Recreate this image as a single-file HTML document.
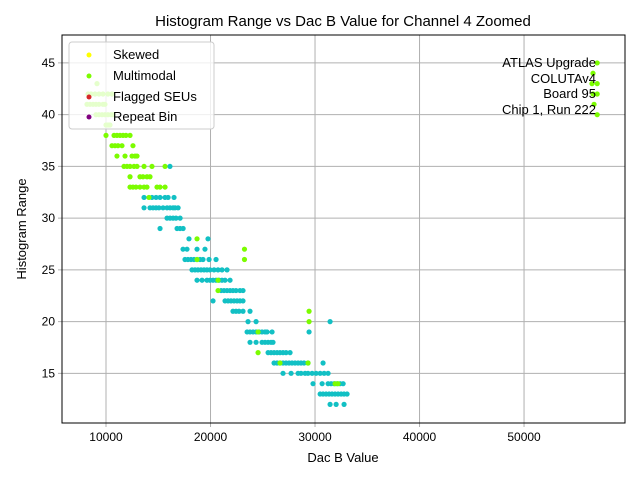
<!DOCTYPE html>
<html><head><meta charset="utf-8"><style>
body{margin:0;background:#fff;}
svg text{font-family:"Liberation Sans","DejaVu Sans",sans-serif;fill:#000;}
</style></head><body>
<svg id="chart" width="640" height="480" xmlns="http://www.w3.org/2000/svg">
<rect width="640" height="480" fill="#fff"/>
<text x="343" y="26" font-size="15" text-anchor="middle">Histogram Range vs Dac B Value for Channel 4 Zoomed</text>
<text x="343" y="462" font-size="13" text-anchor="middle">Dac B Value</text>
<text transform="translate(26,229) rotate(-90)" font-size="13" text-anchor="middle">Histogram Range</text>
<g id="grid"></g>
<g id="marks"></g>
<g id="ann">
<text x="596" y="67" font-size="13" text-anchor="end">ATLAS Upgrade</text>
<text x="596" y="83" font-size="13" text-anchor="end">COLUTAv4</text>
<text x="596" y="98" font-size="13" text-anchor="end">Board 95</text>
<text x="596" y="114" font-size="13" text-anchor="end">Chip 1, Run 222</text>
</g>
<g>
<rect x="69" y="42" width="145" height="87" rx="3" fill="#fff" fill-opacity="0.8" stroke="#ccc"/>
<circle cx="89" cy="55" r="2.5" fill="#ffff00"/><text x="113" y="59" font-size="13">Skewed</text>
<circle cx="89" cy="76" r="2.5" fill="#7cfc00"/><text x="113" y="80" font-size="13">Multimodal</text>
<circle cx="89" cy="97" r="2.5" fill="#d62728"/><text x="113" y="101" font-size="13">Flagged SEUs</text>
<circle cx="89" cy="117" r="2.5" fill="#800080"/><text x="113" y="121" font-size="13">Repeat Bin</text>
</g>
<rect x="62" y="35" width="563" height="388" fill="none" stroke="#000" stroke-width="1"/>
</svg>
<script>
const xTicks=[10000,20000,30000,40000,50000];
const yTicks=[15,20,25,30,35,40,45];
const tealY=[35,32,31,30,29,28,27,26,25,24,23,22,21,20,19,18,17,16,15,14,13,12];
const tealX=[
[16120],
[13640,14400,14790,15170,15650,15940,16510],
[13640,14210,14500,14790,15070,15460,15840,16130,16420,16610,16900],
[15840,16130,16420,16700,17090],
[15170,16800,17090,17380],
[17940,19760],
[17370,17750,18710,19470],
[17560,17840,18130,18420,18710,19000,19280,19860,20530],
[18230,18520,18800,19090,19380,19660,19950,20340,20720,21100,21580],
[18710,19190,19660,19950,20240,20530,20820,21100,21390,21870],
[21010,21290,21580,21870,22150,22440,22820,23110],
[20240,21390,21680,21960,22250,22540,22820,23110],
[22150,22440,22730,23110,23780],
[23590,24360,31440],
[23500,23780,24070,24360,24650,24930,25220,25410,25890,29430],
[23780,24360,24930,25220,25510,25790,25980],
[25510,25790,26080,26370,26650,26940,27230,27610],
[26080,26370,26650,26940,27230,27520,27800,28090,28380,28660,28950,29330,30770],
[26940,27710,28380,28660,29050,29330,29720,30100,30490,30870,31250],
[29810,30680,31250,31540,31830,32110,32400,32690],
[30490,30770,31060,31350,31630,31920,32210,32500,32780,33070],
[31440,32020,32780]];
const greenY=[45,44,43,42,41,40,39,38,37,36,35,34,33,32,28,27,26,24,23,21,20,19,17,16,14];
const greenX=[
[57000],
[56600],
[9140,56500,57000],
[8280,8570,8950,9330,9710,10190,10570,56600,57000],
[8180,8470,8760,9040,9330,9710,9900,56700],
[9040,9330,9620,9900,10190,10480,10670,57000],
[10000,10190,10380],
[10000,10770,11050,11340,11630,11910,12300],
[10570,10860,11150,11530,12580],
[11050,11820,12490,12780,12970],
[11720,12010,12300,12680,12970,13640,14400,15650],
[12300,13250,13540,13920,14210],
[12300,12580,12870,13250,13640,13920,14880,15170,15650],
[14110],
[18710],
[23250],
[18710,23250],
[20720],
[20720],
[29430],
[29430],
[24550],
[24550],
[26650,29330],
[31920,32200]];
const NS='http://www.w3.org/2000/svg';
const X0=5790,X1=59660,Y0=10.2,Y1=47.7,PL=62,PR=625,PT=35,PB=423;
function sx(v){return PL+(v-X0)/(X1-X0)*(PR-PL);}
function sy(v){return PB-(v-Y0)/(Y1-Y0)*(PB-PT);}
const grid=document.getElementById('grid'),marks=document.getElementById('marks');
xTicks.forEach(t=>{
 const x=sx(t);
 const l=document.createElementNS(NS,'line');
 l.setAttribute('x1',x);l.setAttribute('x2',x);l.setAttribute('y1',PT);l.setAttribute('y2',PB+4);
 l.setAttribute('stroke','#b0b0b0');l.setAttribute('stroke-width','1');
 
 
 grid.appendChild(l);
 const tx=document.createElementNS(NS,'text');
 tx.setAttribute('x',x);tx.setAttribute('y',PB+18);tx.setAttribute('font-size','12');tx.setAttribute('text-anchor','middle');
 tx.textContent=t;
 
 
 grid.appendChild(tx);
});
yTicks.forEach(t=>{
 const y=sy(t);
 const l=document.createElementNS(NS,'line');
 l.setAttribute('x1',PL-4);l.setAttribute('x2',PR);l.setAttribute('y1',y);l.setAttribute('y2',y);
 l.setAttribute('stroke','#b0b0b0');l.setAttribute('stroke-width','1');
 
 
 grid.appendChild(l);
 const tx=document.createElementNS(NS,'text');
 tx.setAttribute('x',PL-7);tx.setAttribute('y',y+4);tx.setAttribute('font-size','12');tx.setAttribute('text-anchor','end');
 tx.textContent=t;
 
 
 grid.appendChild(tx);
});
function drawSeries(ys,xs,color,name){
 ys.forEach((y,i)=>{xs[i].forEach(x=>{
  const c=document.createElementNS(NS,'circle');
  c.setAttribute('cx',sx(x));c.setAttribute('cy',sy(y));c.setAttribute('r','2.6');
  c.setAttribute('fill',color);
  
  
  marks.appendChild(c);
 });});
}
drawSeries(tealY,tealX,'#12c0c4','normal-point');
drawSeries(greenY,greenX,'#7cfc00','multimodal-point');
</script>
</body></html>
